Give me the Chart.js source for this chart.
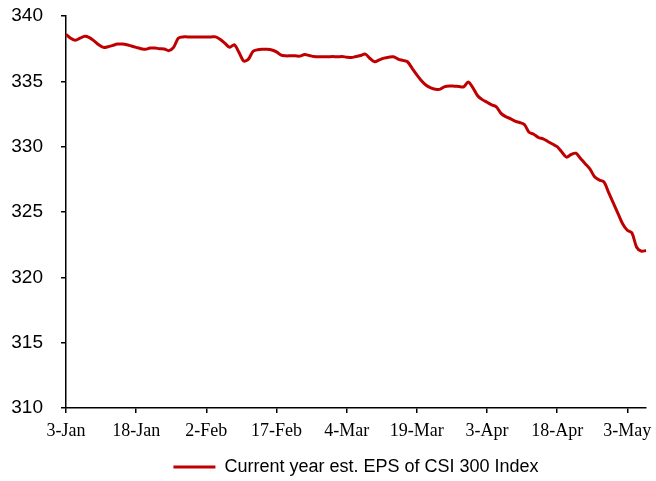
<!DOCTYPE html>
<html>
<head>
<meta charset="utf-8">
<script src="https://cdn.jsdelivr.net/npm/chart.js@4"></script>
<style>
  body { margin: 0; background: #fff; }
  canvas { display: block; }
</style>
</head>
<body>
<canvas id="epsChart" width="656" height="481"></canvas>
<script>
      // Daily readings from 3-Jan to 7-May (one value per calendar day)
      const startDay = 3;
      const monthNames = ["Jan", "Feb", "Mar", "Apr", "May"];
      const monthLengths = [31, 28, 31, 30, 31];
      const tickEvery = 15;

      const epsValues = [
        338.6, 338.3, 338.15, 338.3, 338.45, 338.35, 338.1, 337.8, 337.6, 337.65,
        337.75, 337.85, 337.85, 337.8, 337.7, 337.6, 337.5, 337.45, 337.55, 337.55,
        337.5, 337.48, 337.35, 337.6, 338.3, 338.4, 338.4, 338.4, 338.4, 338.4,
        338.4, 338.4, 338.4, 338.2, 337.9, 337.6, 337.8, 337.2, 336.55, 336.7,
        337.3, 337.42, 337.45, 337.45, 337.4, 337.25, 337.0, 336.95, 336.95, 336.95,
        336.93, 337.05, 336.98, 336.9, 336.88, 336.88, 336.88, 336.9, 336.88, 336.9,
        336.85, 336.82, 336.9, 336.98, 337.08, 336.75, 336.5, 336.65, 336.78, 336.85,
        336.88, 336.7, 336.6, 336.5, 336.0, 335.5, 335.05, 334.7, 334.5, 334.4,
        334.4, 334.6, 334.65, 334.63, 334.6, 334.58, 334.95, 334.5, 333.9, 333.6,
        333.4, 333.2, 333.05, 332.55, 332.3, 332.15, 331.95, 331.85, 331.7, 331.1,
        330.95, 330.7, 330.6, 330.4, 330.2, 330.0, 329.6, 329.2, 329.4, 329.5,
        329.1, 328.7, 328.3, 327.7, 327.45, 327.3, 326.5, 325.7, 324.9, 324.1,
        323.6, 323.4, 322.3, 322.0, 322.05
      ];

      // Build the "d-Mon" labels for each day
      const dayLabels = [];
      let m = 0;
      let d = startDay;
      for (let i = 0; i < epsValues.length; i++) {
        dayLabels.push(d + "-" + monthNames[m]);
        d++;
        if (d > monthLengths[m]) {
          d = 1;
          m++;
        }
      }

      const ctx = document.getElementById("epsChart").getContext("2d");

      const chart = new Chart(ctx, {
        type: "line",
        data: {
          labels: dayLabels,
          datasets: [
            {
              label: "Current year est. EPS of CSI 300 Index",
              data: epsValues,
              borderColor: "#c00000",
              backgroundColor: "#c00000",
              borderWidth: 3,
              pointRadius: 0,
              tension: 0.3,
            },
          ],
        },
        options: {
          responsive: false,
          animation: false,
          layout: {
            padding: { top: 16, right: 10, bottom: -5, left: 0 },
          },
          plugins: {
            tooltip: { enabled: false },
            legend: {
              position: "bottom",
              fullSize: false,
              labels: {
                usePointStyle: true,
                pointStyle: "line",
                pointStyleWidth: 42,
                boxWidth: 36,
                color: "#000",
                padding: 4,
                font: { family: "Liberation Sans", size: 18 },
              },
            },
          },
          scales: {
            x: {
              type: "category",
              offset: false,
              border: { color: "#000", width: 1.5 },
              grid: {
                drawOnChartArea: false,
                drawTicks: true,
                tickLength: 5,
                color: "#000",
                lineWidth: 1.5,
              },
              ticks: {
                autoSkip: false,
                maxRotation: 0,
                padding: 7,
                color: "#000",
                font: { family: "Liberation Serif", size: 18 },
                callback: function (value, index) {
                  return index % tickEvery === 0 ? dayLabels[index] : null;
                },
              },
              afterFit: function (scale) {
                scale.height = 46;
                scale.paddingLeft = 0;
                scale.paddingRight = 0;
              },
            },
            y: {
              min: 310,
              max: 340,
              border: { color: "#000", width: 1.5 },
              grid: {
                drawOnChartArea: false,
                drawTicks: true,
                tickLength: 5,
                color: "#000",
                lineWidth: 1.5,
              },
              ticks: {
                stepSize: 5,
                padding: 18,
                color: "#000",
                font: { family: "Liberation Sans", size: 19 },
              },
              afterFit: function (scale) {
                scale.width = 66;
                scale.paddingTop = 0;
                scale.paddingBottom = 0;
              },
            },
          },
        },
      });
</script>
</body>
</html>
